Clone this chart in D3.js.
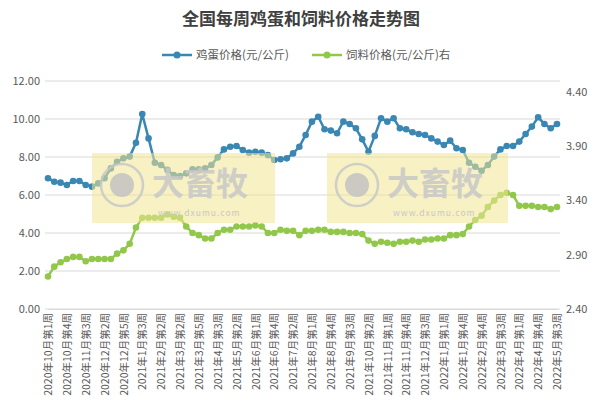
<!DOCTYPE html><html><head><meta charset="utf-8">
<script src="https://cdn.jsdelivr.net/npm/d3@7"></script>
<style>body{margin:0;background:#fff}text{font-family:"Noto Sans CJK SC","Noto Sans",sans-serif}</style></head><body>
<svg id="c" width="602" height="415"></svg>
<script>
const tickLabels=["2020年10月第1周","2020年10月第4周","2020年11月第3周","2020年12月第2周","2020年12月第5周","2021年1月第3周","2021年2月第2周","2021年3月第2周","2021年3月第5周","2021年4月第3周","2021年5月第2周","2021年6月第1周","2021年6月第4周","2021年7月第2周","2021年8月第1周","2021年8月第4周","2021年9月第3周","2021年10月第2周","2021年11月第1周","2021年11月第4周","2021年12月第3周","2022年1月第1周","2022年1月第4周","2022年2月第4周","2022年3月第3周","2022年4月第1周","2022年4月第4周","2022年5月第3周"];
const eggPrice=[6.88,6.70,6.65,6.53,6.74,6.74,6.53,6.44,6.61,6.88,7.40,7.75,7.93,8.02,8.75,10.26,8.98,7.70,7.58,7.32,7.05,7.00,7.14,7.35,7.35,7.40,7.58,7.98,8.40,8.54,8.58,8.37,8.23,8.28,8.23,8.10,7.84,7.88,7.93,8.19,8.54,9.16,9.86,10.12,
9.46,9.39,9.25,9.86,9.74,9.51,8.93,8.28,9.11,10.04,9.86,10.04,9.51,9.46,9.30,9.21,9.16,8.98,8.81,8.63,8.86,8.46,8.37,7.70,7.49,7.28,7.58,8.02,8.40,8.58,8.58,8.81,9.21,9.60,10.09,9.74,9.51,9.74];
const feedPrice=[2.70,2.79,2.83,2.86,2.88,2.88,2.84,2.86,2.86,2.86,2.86,2.91,2.94,3.00,3.15,3.24,3.24,3.24,3.24,3.27,3.25,3.24,3.16,3.10,3.08,3.05,3.05,3.10,3.13,3.13,3.16,3.16,3.16,3.17,3.16,3.10,3.10,3.13,3.12,3.12,3.08,3.12,3.12,3.13,
3.13,3.11,3.11,3.11,3.10,3.10,3.09,3.03,3.00,3.02,3.01,3.00,3.02,3.02,3.03,3.02,3.04,3.04,3.05,3.05,3.08,3.08,3.09,3.16,3.22,3.26,3.34,3.40,3.45,3.47,3.45,3.35,3.35,3.35,3.34,3.34,3.32,3.34];
const leftTicks=[0,2,4,6,8,10,12], rightTicks=[2.4,2.9,3.4,3.9,4.4];
const svg=d3.select("#c");
const L=45,R=560,T=81,B=309;
const x=d3.scalePoint().domain(d3.range(eggPrice.length)).range([48,557]);
const yL=d3.scaleLinear().domain([0,12]).range([B,T]);
const yR=d3.scaleLinear().domain([2.4,4.5]).range([B,T]);
svg.append("text").attr("x",301).attr("y",25).attr("text-anchor","middle").attr("font-size",17).attr("font-weight","bold").attr("fill","#404040").text("全国每周鸡蛋和饲料价格走势图");
leftTicks.forEach(t=>{svg.append("line").attr("x1",L).attr("x2",R).attr("y1",yL(t)).attr("y2",yL(t)).attr("stroke","#d9d9d9");});
svg.append("g").attr("transform",`translate(${L},0)`).call(d3.axisLeft(yL).tickValues(leftTicks).tickFormat(d3.format(".2f")).tickSize(0).tickPadding(5)).call(g=>g.select(".domain").remove()).selectAll("text").attr("font-size",11).attr("fill","#595959");
svg.append("g").attr("transform",`translate(${R},0)`).call(d3.axisRight(yR).tickValues(rightTicks).tickFormat(d3.format(".2f")).tickSize(0).tickPadding(6)).call(g=>g.select(".domain").remove()).selectAll("text").attr("font-size",11).attr("fill","#595959");
const xa=svg.append("g").attr("transform",`translate(0,${B})`).call(d3.axisBottom(x).tickValues(d3.range(0,eggPrice.length,3)).tickFormat((d,i)=>tickLabels[i]).tickSize(0));
xa.select(".domain").attr("stroke","#d9d9d9");
xa.selectAll("text").attr("font-size",10.5).attr("fill","#595959").attr("text-anchor","end").attr("transform","rotate(-90)").attr("dx","-4").attr("dy","0.35em").attr("x",0).attr("y",0);
function series(data,y,color){
svg.append("path").datum(data).attr("fill","none").attr("stroke",color).attr("stroke-width",2.5).attr("d",d3.line().x((d,i)=>x(i)).y(d=>y(d)));
svg.append("g").selectAll("circle").data(data).join("circle").attr("cx",(d,i)=>x(i)).attr("cy",d=>y(d)).attr("r",3.3).attr("fill",color);}
series(feedPrice,yR,"#92c84a");
series(eggPrice,yL,"#3a87b3");
// watermarks (semi-transparent overlay)
[[92,275],[327,508]].forEach(([a,b])=>{const g=svg.append("g");
g.append("rect").attr("x",a).attr("y",153).attr("width",b-a).attr("height",70).attr("fill","#f1e594").attr("opacity",0.55);
g.append("circle").attr("cx",a+30).attr("cy",185).attr("r",21).attr("fill","none").attr("stroke","#c8c8c8").attr("stroke-width",2.5).attr("opacity",0.85);
g.append("circle").attr("cx",a+30).attr("cy",185).attr("r",12).attr("fill","#c2c2c2").attr("opacity",0.85);
g.append("text").attr("x",a+60).attr("y",195).attr("font-size",32).attr("font-weight","bold").attr("fill","#c8c8c8").attr("opacity",0.85).text("大畜牧");
g.append("text").attr("x",a+66).attr("y",216).attr("font-size",8.5).attr("fill","#c8c8c8").attr("letter-spacing",1).text("www.dxumu.com");});
// legend
[["鸡蛋价格(元/公斤)","#3a87b3",162],["饲料价格(元/公斤)右","#92c84a",312]].forEach(([t,c,lx])=>{
svg.append("line").attr("x1",lx).attr("x2",lx+30).attr("y1",55).attr("y2",55).attr("stroke",c).attr("stroke-width",2.5);
svg.append("circle").attr("cx",lx+15).attr("cy",55).attr("r",3.5).attr("fill",c);
svg.append("text").attr("x",lx+34).attr("y",59).attr("font-size",11.5).attr("fill","#595959").text(t);});
</script></body></html>
